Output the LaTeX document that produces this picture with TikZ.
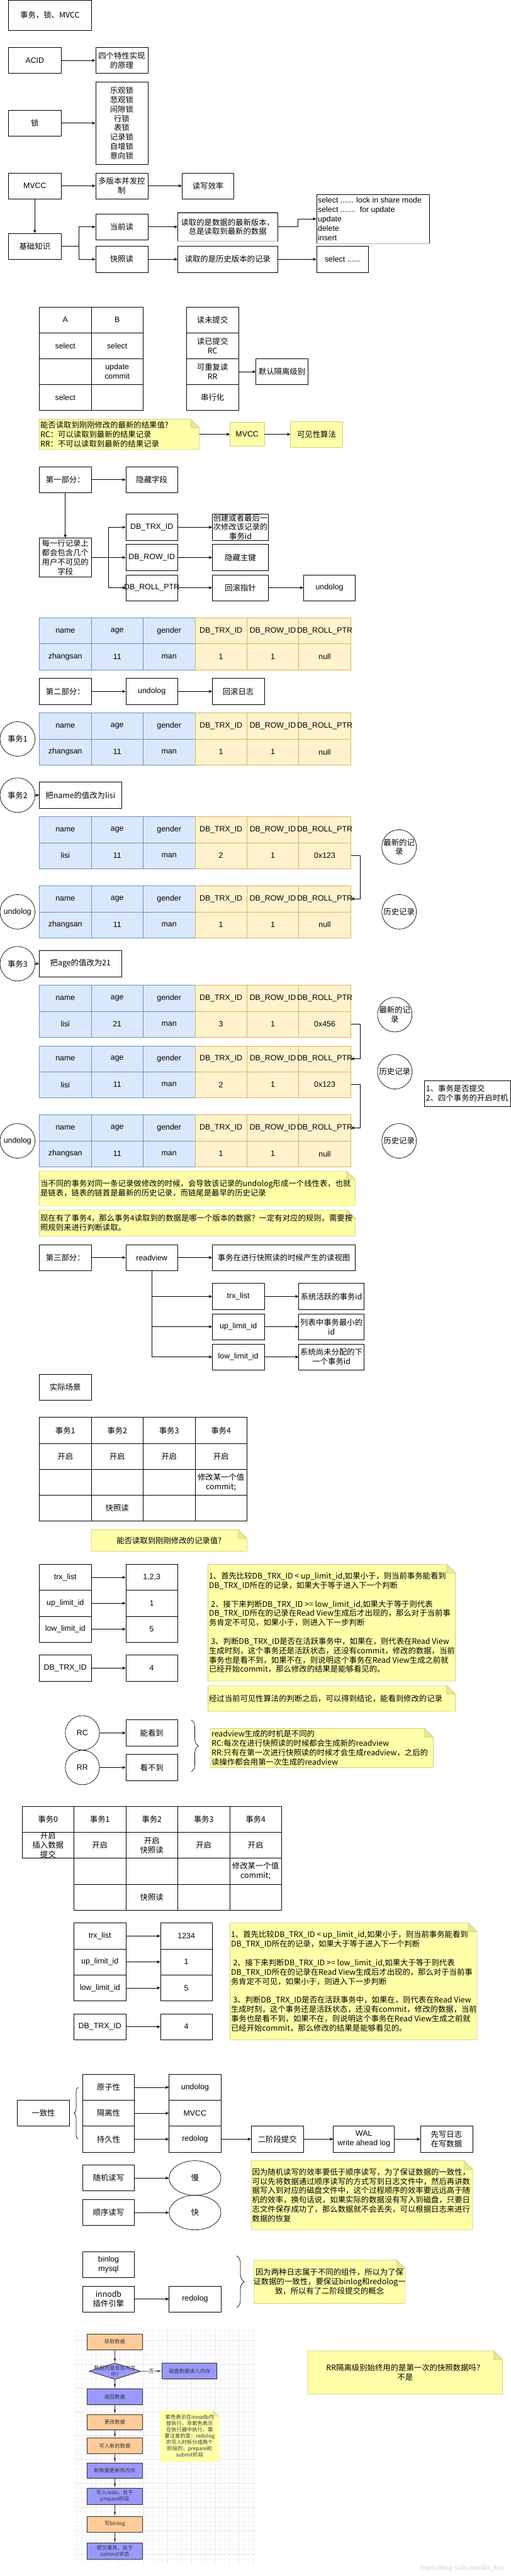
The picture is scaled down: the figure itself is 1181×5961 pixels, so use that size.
\documentclass[tikz,border=0pt]{standalone}
\usepackage{fontspec}
\setmainfont{Liberation Sans}
\newfontfamily\cjk{Noto Sans CJK SC}
\usetikzlibrary{arrows.meta,shapes.geometric,decorations.pathreplacing,shadows}
\definecolor{bluef}{HTML}{DAE8FC}
\definecolor{bluel}{HTML}{6C8EBF}
\definecolor{yelf}{HTML}{FFF2CC}
\definecolor{yell}{HTML}{D6B656}
\definecolor{notef}{HTML}{FFFFA8}
\definecolor{notel}{HTML}{CDCD78}
\definecolor{notefold}{HTML}{E8E896}
\definecolor{forange}{HTML}{FFCC99}
\definecolor{fpurple}{HTML}{9999FF}
\definecolor{fline}{HTML}{333333}
\definecolor{gmin}{HTML}{F3F3F3}
\definecolor{gmaj}{HTML}{E4E4E4}
\newcommand\fs{\fontsize{18}{21.6}\selectfont}
\newcommand\zfs{\cjk\fontsize{18}{21.6}\selectfont}
\newcommand\sfs{\cjk\fontsize{12}{14.6}\selectfont}
\newcommand\bx[6]{\node[#1,minimum width={(#4-#2)*1pt},minimum height={(#5-#3)*1pt}] (#6) at ({(#2+#4)/2},{(#3+#5)/2})}
\newcommand\el[7]{\bx{ell}{#2}{#3}{#4}{#5}{#6}{}; \node[#1] (#6T) at (#6.center) {#7};}
\newcommand\notebox[6]{%
  \filldraw[notebg] (#1,#2) -- ({#3-#6},#2) -- (#3,{#2+#6}) -- (#3,#4) -- (#1,#4) -- cycle;
  \filldraw[foldbg] ({#3-#6},#2) -- ({#3-#6},{#2+#6}) -- (#3,{#2+#6}) -- cycle;
  \bx{cover}{#1}{#2}{#3}{#4}{#5}{};}
\newcommand\trow[8]{%
  \bx{bcell}{91}{#2}{211}{#2+60}{#1a}{#3};
  \bx{bcell}{211}{#2}{331}{#2+60}{#1b}{#4};
  \bx{bcell}{331}{#2}{451}{#2+60}{#1c}{#5};
  \bx{ycell}{451}{#2}{571}{#2+60}{#1d}{#6};
  \bx{ycell}{571}{#2}{691}{#2+60}{#1e}{#7};
  \bx{ycell}{691}{#2}{811}{#2+60}{#1f}{#8};}
\newcommand\thead[2]{\trow{#1}{#2}{name}{age}{gender}{DB\_TRX\_ID}{DB\_ROW\_ID}{\makebox[0pt]{DB\_ROLL\_PTR}}}
\newcommand\bigtext{1、首先比较DB\_TRX\_ID < up\_limit\_id,如果小于，则当前事务能看到\\DB\_TRX\_ID所在的记录，如果大于等于进入下一个判断\\[21.6pt]\hspace*{5pt}2、接下来判断DB\_TRX\_ID >= low\_limit\_id,如果大于等于则代表\\DB\_TRX\_ID所在的记录在Read View生成后才出现的，那么对于当前事\\务肯定不可见，如果小于，则进入下一步判断\\[21.6pt]\hspace*{5pt}3、判断DB\_TRX\_ID是否在活跃事务中，如果在，则代表在Read View\\生成时刻，这个事务还是活跃状态，还没有commit，修改的数据，当前\\事务也是看不到，如果不在，则说明这个事务在Read View生成之前就\\已经开始commit，那么修改的结果是能够看见的。}
\begin{document}
\begin{tikzpicture}[x=1pt,y=-1pt,
  every node/.style={inner xsep=1pt,inner ysep=0pt,font=\fs,align=center,text=black},
  box/.style={draw,line width=1pt},
  zh/.style={font=\zfs},
  lat/.style={},
  cover/.style={inner sep=0pt},
  bcell/.style={draw=bluel,fill=bluef,line width=1pt},
  ycell/.style={draw=yell,fill=yelf,line width=1pt},
  ell/.style={ellipse,draw,line width=1pt,inner sep=0pt},
  arr/.style={line width=1pt,-{Stealth[length=8pt,width=7pt,inset=2.5pt]}},
  ybox/.style={draw=notel,fill=notef,line width=1pt},
  notebg/.style={draw=notel,fill=notef,line width=1pt},
  foldbg/.style={draw=notel,fill=notefold,line width=1pt},
  brc/.style={decorate,decoration={brace,amplitude=#1},line width=1pt},
  fbox/.style={draw=fline,line width=1.3pt,font=\sfs,text=fline,inner sep=0pt,drop shadow={shadow xshift=1.2pt,shadow yshift=-1.2pt,opacity=0.3}},
  farr/.style={draw=fline,line width=1.2pt,-{Latex[length=10pt,width=5pt]}}
]
\fill[white] (0,0) rectangle (1181,5961);
\useasboundingbox (0,0) rectangle (1181,5961);

% ---------- section 1
\bx{box,zh}{20}{0}{211}{70}{t0}{事务，锁、MVCC};
\bx{box}{20}{110}{141}{170}{acid}{ACID};
\bx{box,zh}{221}{110}{342}{170}{yl}{四个特性实现\\的原理};
\draw[arr] (acid.east) -- (yl.west);
\bx{box,zh}{20}{255}{141}{315}{lock}{锁};
\bx{box,zh}{221}{190}{342}{380}{locks}{乐观锁\\悲观锁\\间隙锁\\行锁\\表锁\\记录锁\\自增锁\\意向锁};
\draw[arr] (lock.east) -- (locks.west);
\bx{box}{20}{400}{141}{460}{mvcc}{MVCC};
\bx{box,zh}{221}{400}{342}{460}{mvd}{多版本并发控\\制};
\bx{box,zh}{421}{400}{541}{460}{rw}{读写效率};
\draw[arr] (mvcc.east) -- (mvd.west);
\draw[arr] (mvd.east) -- (rw.west);
\bx{box,zh}{20}{540}{141}{600}{base}{基础知识};
\draw[arr] (mvcc.south) -- (base.north);
\bx{box,zh}{221}{495}{342}{555}{cur}{当前读};
\bx{box,zh}{411}{492}{642}{558}{curd}{读取的是数据的最新版本，\\总是读取到最新的数据};
\draw[gray!60,line width=1.5pt] (curd.north west) -- (curd.north east);
\draw[gray!60,line width=1.5pt] (curd.south west) -- (curd.south east);
\bx{box}{732}{450}{993}{563}{sel1}{};
\draw[gray!60,line width=1.5pt] (sel1.south west) -- (sel1.south east);
\node[anchor=west,align=left] (sel1T) at (734,506.5) {select ...... lock in share mode\\select .......\ \ for update\\update\\delete\\insert};
\bx{box,zh}{221}{570}{342}{630}{snap}{快照读};
\bx{box,zh}{411}{570}{642}{630}{snapd}{读取的是历史版本的记录};
\bx{box}{732}{570}{852}{630}{sel2}{select ......};
\draw[arr] (base.east) -- ++(41,0) |- (cur.west);
\draw[arr] (base.east) -- ++(41,0) |- (snap.west);
\draw[arr] (cur.east) -- (curd.west);
\draw[arr] (snap.east) -- (snapd.west);
\draw[arr] (snapd.east) -- (sel2.west);
\draw[arr] (curd.east) -- ++(46,0) |- (sel1.west);

% ---------- section 2
\bx{box}{91}{710}{211}{770}{ab11}{A};
\bx{box}{211}{710}{331}{770}{ab12}{B};
\bx{box}{91}{770}{211}{830}{ab21}{select};
\bx{box}{211}{770}{331}{830}{ab22}{select};
\bx{box}{91}{830}{211}{890}{ab31}{};
\bx{box}{211}{830}{331}{890}{ab32}{update\\commit};
\bx{box}{91}{890}{211}{950}{ab41}{select};
\bx{box}{211}{890}{331}{950}{ab42}{};
\bx{box,zh}{431}{710}{552}{770}{iso1}{读未提交};
\bx{box,zh}{431}{770}{552}{830}{iso2}{读已提交\\RC};
\bx{box,zh}{431}{830}{552}{890}{iso3}{可重复读\\RR};
\bx{box,zh}{431}{890}{552}{950}{iso4}{串行化};
\bx{box,zh}{592}{830}{712}{890}{def}{默认隔离级别};
\draw[arr] (iso3.east) -- (def.west);
\notebox{91}{970}{461}{1040}{n1}{20}
\node[zh,anchor=west,align=left] (n1T) at (92,1005) {能否读取到刚刚修改的最新的结果值?\\RC：可以读取到最新的结果记录\\RR：不可以读取到最新的结果记录};
\bx{ybox}{532}{977}{611}{1033}{ymvcc}{MVCC};
\bx{ybox,zh}{672}{975}{792}{1035}{yvis}{可见性算法};
\draw[arr] (n1.east) -- (ymvcc.west);
\draw[arr] (ymvcc.east) -- (yvis.west);

% ---------- section 3
\bx{box,zh}{91}{1080}{211}{1140}{p1}{第一部分：};
\bx{box,zh}{291}{1080}{411}{1140}{hid}{隐藏字段};
\draw[arr] (p1.east) -- (hid.west);
\bx{box,zh}{91}{1245}{211}{1335}{every}{每一行记录上\\都会包含几个\\用户不可见的\\字段};
\draw[arr] (p1.south) -- (every.north);
\bx{box}{291}{1190}{411}{1250}{trx}{DB\_TRX\_ID};
\bx{box}{291}{1260}{411}{1320}{rowid}{DB\_ROW\_ID};
\bx{box}{291}{1330}{411}{1390}{roll}{\makebox[0pt]{DB\_ROLL\_PTR}};
\draw[arr] (every.east) -- ++(40,0) |- (trx.west);
\draw[arr] (every.east) -- (rowid.west);
\draw[arr] (every.east) -- ++(40,0) |- (roll.west);
\bx{box,zh}{491}{1190}{621}{1250}{trxd}{创建或者最后一\\次修改该记录的\\事务id};
\bx{box,zh}{491}{1260}{621}{1320}{rowd}{隐藏主键};
\bx{box,zh}{491}{1330}{621}{1390}{rolld}{回滚指针};
\bx{box}{702}{1330}{822}{1390}{undoA}{undolog};
\draw[arr] (trx.east) -- (trxd.west);
\draw[arr] (rowid.east) -- (rowd.west);
\draw[arr] (roll.east) -- (rolld.west);
\draw[arr] (rolld.east) -- (undoA.west);
\thead{h1}{1430}
\trow{d1}{1490}{zhangsan}{11}{man}{1}{1}{null}

% ---------- section 4
\bx{box,zh}{91}{1570}{211}{1630}{p2}{第二部分：};
\bx{box}{291}{1570}{411}{1630}{undoB}{undolog};
\bx{box,zh}{491}{1570}{611}{1630}{rb}{回滚日志};
\draw[arr] (p2.east) -- (undoB.west);
\draw[arr] (undoB.east) -- (rb.west);
\thead{h2}{1650}
\trow{d2}{1710}{zhangsan}{11}{man}{1}{1}{null}
\el{zh}{0}{1670}{81}{1750}{e1}{事务1}
\el{zh}{0}{1800}{81}{1880}{e2}{事务2}
\bx{box,zh}{91}{1810}{281}{1870}{c2}{把name的值改为lisi};
\draw[arr] (e2.east) -- (c2.west);
\thead{h3}{1890}
\trow{d3}{1950}{lisi}{11}{man}{2}{1}{0x123}
\el{zh}{883}{1920}{963}{2000}{new1}{最新的记\\录}
\thead{h4}{2050}
\trow{d4}{2110}{zhangsan}{11}{man}{1}{1}{null}
\el{lat}{0}{2070}{81}{2150}{u1}{undolog}
\el{zh}{883}{2070}{963}{2150}{his1}{历史记录}
\draw[arr] (d3f.east) -- ++(21,0) |- (h4f.east);
\el{zh}{0}{2190}{81}{2270}{e3}{事务3}
\bx{box,zh}{91}{2200}{281}{2260}{c3}{把age的值改为21};
\draw[arr] (e3.east) -- (c3.west);
\thead{h5}{2280}
\trow{d5}{2340}{lisi}{21}{man}{3}{1}{0x456}
\el{zh}{873}{2308}{953}{2388}{new2}{最新的记\\录}
\thead{h6}{2420}
\trow{d6}{2480}{lisi}{11}{man}{2}{1}{0x123}
\el{zh}{873}{2440}{953}{2520}{his2}{历史记录}
\draw[arr] (d5f.east) -- ++(21,0) |- (h6f.east);
\thead{h7}{2580}
\trow{d7}{2640}{zhangsan}{11}{man}{1}{1}{null}
\el{lat}{0}{2600}{81}{2680}{u2}{undolog}
\el{zh}{883}{2600}{963}{2680}{his3}{历史记录}
\draw[arr] (d6f.east) -- ++(21,0) |- (h7f.east);
\bx{box}{982}{2500}{1180.5}{2560}{qb}{};
\node[zh,anchor=west,align=left] (qbT) at (984,2530) {1、事务是否提交\\2、四个事务的开启时机};

% ---------- section 5
\notebox{91}{2710}{822}{2790}{na}{20}
\node[zh,anchor=west,align=left] (naT) at (92,2750) {当不同的事务对同一条记录做修改的时候，会导致该记录的undolog形成一个线性表，也就\\是链表，链表的链首是最新的历史记录，而链尾是最早的历史记录};
\notebox{91}{2800}{822}{2860}{nb}{20}
\node[zh,anchor=west,align=left] (nbT) at (92,2830) {现在有了事务4，那么事务4读取到的数据是哪一个版本的数据？一定有对应的规则，需要按\\照规则来进行判断读取。};
\bx{box,zh}{91}{2880}{211}{2940}{p3}{第三部分：};
\bx{box}{291}{2880}{411}{2940}{rv}{readview};
\bx{box,zh}{491}{2880}{822}{2940}{rvd}{事务在进行快照读的时候产生的读视图};
\draw[arr] (p3.east) -- (rv.west);
\draw[arr] (rv.east) -- (rvd.west);
\bx{box}{491}{2970}{611}{3030}{tl}{trx\_list};
\bx{box}{491}{3040}{611}{3100}{ul}{up\_limit\_id};
\bx{box}{491}{3110}{611}{3170}{ll}{low\_limit\_id};
\bx{box,zh}{691}{2970}{842}{3030}{tld}{系统活跃的事务id};
\bx{box,zh}{691}{3040}{842}{3100}{uld}{列表中事务最小的\\id};
\bx{box,zh}{691}{3110}{842}{3170}{lld}{系统尚未分配的下\\一个事务id};
\draw[arr] (rv.south) |- (tl.west);
\draw[arr] (rv.south) |- (ul.west);
\draw[arr] (rv.south) |- (ll.west);
\draw[arr] (tl.east) -- (tld.west);
\draw[arr] (ul.east) -- (uld.west);
\draw[arr] (ll.east) -- (lld.west);

% ---------- section 6
\bx{box,zh}{91}{3180}{211}{3240}{real}{实际场景};
\bx{box,zh}{91}{3280}{211}{3340}{s11}{事务1};
\bx{box,zh}{211}{3280}{331}{3340}{s12}{事务2};
\bx{box,zh}{331}{3280}{451}{3340}{s13}{事务3};
\bx{box,zh}{451}{3280}{571}{3340}{s14}{事务4};
\bx{box,zh}{91}{3340}{211}{3400}{s21}{开启};
\bx{box,zh}{211}{3340}{331}{3400}{s22}{开启};
\bx{box,zh}{331}{3340}{451}{3400}{s23}{开启};
\bx{box,zh}{451}{3340}{571}{3400}{s24}{开启};
\bx{box,zh}{91}{3400}{211}{3460}{s31}{};
\bx{box,zh}{211}{3400}{331}{3460}{s32}{};
\bx{box,zh}{331}{3400}{451}{3460}{s33}{};
\bx{box,zh}{451}{3400}{571}{3460}{s34}{修改某一个值\\commit;};
\bx{box,zh}{91}{3460}{211}{3520}{s41}{};
\bx{box,zh}{211}{3460}{331}{3520}{s42}{快照读};
\bx{box,zh}{331}{3460}{451}{3520}{s43}{};
\bx{box,zh}{451}{3460}{571}{3520}{s44}{};
\notebox{211}{3540}{571}{3590}{q2}{20}
\node[zh] (q2T) at (391,3565) {能否读取到刚刚修改的记录值?};
\bx{box}{91}{3620}{211}{3680}{k1}{trx\_list};
\bx{box}{291}{3620}{411}{3680}{v1}{1,2,3};
\bx{box}{91}{3680}{211}{3740}{k2}{up\_limit\_id};
\bx{box}{291}{3680}{411}{3740}{v2}{1};
\bx{box}{91}{3740}{211}{3800}{k3}{low\_limit\_id};
\bx{box}{291}{3740}{411}{3800}{v3}{5};
\bx{box}{91}{3830}{211}{3890}{k4}{DB\_TRX\_ID};
\bx{box}{291}{3830}{411}{3890}{v4}{4};
\draw[arr] (k1.east) -- (v1.west);
\draw[arr] (k2.east) -- (v2.west);
\draw[arr] (k3.east) -- (v3.west);
\draw[arr] (k4.east) -- (v4.west);
\notebox{481}{3620}{1053}{3890}{nb1}{20}
\node[zh,anchor=west,align=left] (nb1T) at (482,3755) {\bigtext};
\notebox{481}{3900}{1053}{3960}{nc}{20}
\node[zh,anchor=west] (ncT) at (482,3930) {经过当前可见性算法的判断之后，可以得到结论，能看到修改的记录};
\el{lat}{151}{3970}{230}{4050}{rc}{RC}
\bx{box,zh}{291}{3980}{411}{4040}{see}{能看到};
\el{lat}{151}{4050}{230}{4130}{rr}{RR}
\bx{box,zh}{291}{4060}{411}{4120}{nsee}{看不到};
\draw[arr] (rc.east) -- (see.west);
\draw[arr] (rr.east) -- (nsee.west);
\coordinate (brA1) at (442,3980);
\coordinate (brA2) at (442,4100);
\draw[brc=17pt] (brA1) -- (brA2);
\notebox{487}{4000}{1002}{4090}{nd}{20}
\node[zh,anchor=west,align=left] (ndT) at (488,4045) {readview生成的时机是不同的\\RC:每次在进行快照读的时候都会生成新的readview\\RR:只有在第一次进行快照读的时候才会生成readview，之后的\\读操作都会用第一次生成的readview};

% ---------- section 7
\bx{box,zh}{51}{4180}{171}{4240}{u11}{事务0};
\bx{box,zh}{171}{4180}{291}{4240}{u12}{事务1};
\bx{box,zh}{291}{4180}{411}{4240}{u13}{事务2};
\bx{box,zh}{411}{4180}{531}{4240}{u14}{事务3};
\bx{box,zh}{531}{4180}{651}{4240}{u15}{事务4};
\bx{box,zh}{51}{4240}{171}{4300}{u21}{开启\\插入数据\\提交};
\bx{box,zh}{171}{4240}{291}{4300}{u22}{开启};
\bx{box,zh}{291}{4240}{411}{4300}{u23}{开启\\快照读};
\bx{box,zh}{411}{4240}{531}{4300}{u24}{开启};
\bx{box,zh}{531}{4240}{651}{4300}{u25}{开启};
\bx{box,zh}{171}{4300}{291}{4360}{u32}{};
\bx{box,zh}{291}{4300}{411}{4360}{u33}{};
\bx{box,zh}{411}{4300}{531}{4360}{u34}{};
\bx{box,zh}{531}{4300}{651}{4360}{u35}{修改某一个值\\commit;};
\bx{box,zh}{171}{4360}{291}{4420}{u42}{};
\bx{box,zh}{291}{4360}{411}{4420}{u43}{快照读};
\bx{box,zh}{411}{4360}{531}{4420}{u44}{};
\bx{box,zh}{531}{4360}{651}{4420}{u45}{};
\bx{box}{171}{4450}{291}{4510}{m1}{trx\_list};
\bx{box}{371}{4450}{491}{4510}{w1}{1234};
\bx{box}{171}{4510}{291}{4570}{m2}{up\_limit\_id};
\bx{box}{371}{4510}{491}{4570}{w2}{1};
\bx{box}{171}{4570}{291}{4630}{m3}{low\_limit\_id};
\bx{box}{371}{4570}{491}{4630}{w3}{5};
\bx{box}{171}{4660}{291}{4720}{m4}{DB\_TRX\_ID};
\bx{box}{371}{4660}{491}{4720}{w4}{4};
\draw[arr] (m1.east) -- (w1.west);
\draw[arr] (m2.east) -- (w2.west);
\draw[arr] (m3.east) -- (w3.west);
\draw[arr] (m4.east) -- (w4.west);
\notebox{532}{4450}{1103}{4720}{nb2}{20}
\node[zh,anchor=west,align=left] (nb2T) at (533,4585) {\bigtext};

% ---------- section 8
\bx{box,zh}{40}{4860}{161}{4920}{cons}{一致性};
\coordinate (brB1) at (181,4950);
\coordinate (brB2) at (181,4830);
\draw[brc=10pt] (brB1) -- (brB2);
\bx{box,zh}{191}{4800}{311}{4860}{a1}{原子性};
\bx{box,zh}{191}{4860}{311}{4920}{a2}{隔离性};
\bx{box,zh}{191}{4920}{311}{4980}{a3}{持久性};
\bx{box}{391}{4800}{511}{4860}{b1}{undolog};
\bx{box}{391}{4860}{511}{4920}{b2}{MVCC};
\bx{box}{391}{4920}{511}{4980}{b3}{redolog};
\bx{box,zh}{581}{4920}{702}{4980}{c1}{二阶段提交};
\bx{box}{771}{4920}{912}{4980}{cw}{WAL\\write ahead log};
\bx{box,zh}{972}{4920}{1093}{4980}{cz}{先写日志\\在写数据};
\draw[arr] (a1.east) -- (b1.west);
\draw[arr] (a2.east) -- (b2.west);
\draw[arr] (a3.east) -- (b3.west);
\draw[arr] (b3.east) -- (c1.west);
\draw[arr] (c1.east) -- (cw.west);
\draw[arr] (cw.east) -- (cz.west);

% ---------- section 9
\bx{box,zh}{191}{5010}{311}{5070}{rnd}{随机读写};
\el{zh}{391}{5000}{511}{5080}{slow}{慢}
\bx{box,zh}{191}{5090}{311}{5150}{seq}{顺序读写};
\el{zh}{391}{5080}{511}{5160}{fast}{快}
\draw[arr] (rnd.east) -- (slow.west);
\draw[arr] (seq.east) -- (fast.west);
\notebox{581}{5000}{1093}{5160}{ne}{20}
\node[zh,anchor=west,align=left] (neT) at (582,5080) {因为随机读写的效率要低于顺序读写，为了保证数据的一致性，\\可以先将数据通过顺序读写的方式写到日志文件中，然后再讲数\\据写入到对应的磁盘文件中，这个过程顺序的效率要远远高于随\\机的效率，换句话说，如果实际的数据没有写入到磁盘，只要日\\志文件保存成功了，那么数据就不会丢失，可以根据日志来进行\\数据的恢复};
\bx{box}{191}{5210}{311}{5270}{binl}{binlog\\mysql};
\bx{box,zh}{191}{5290}{311}{5350}{inno}{innodb\\插件引擎};
\bx{box}{391}{5290}{511}{5350}{redo2}{redolog};
\draw[arr] (inno.east) -- (redo2.west);
\coordinate (brC1) at (547,5220);
\coordinate (brC2) at (547,5340);
\draw[brc=18pt] (brC1) -- (brC2);
\notebox{587}{5230}{937}{5330}{nf}{20}
\node[zh] (nfT) at (762,5280) {因为两种日志属于不同的组件，所以为了保\\证数据的一致性，要保证binlog和redolog一\\致，所以有了二阶段提交的概念};
\notebox{712}{5440}{1162}{5540}{nrr}{20}
\node[zh] (nrrT) at (937,5490) {RR隔离级别始终用的是第一次的快照数据吗？\\不是};

% ---------- flowchart image
\begin{scope}
\clip (171,5390) rectangle (593,5933);
\foreach \k in {0,...,37} \draw[gmin,line width=0.8pt] ({178+11*\k},5390) -- ({178+11*\k},5933);
\foreach \k in {0,...,49} \draw[gmin,line width=0.8pt] (171,{5394+11*\k}) -- (593,{5394+11*\k});
\foreach \k in {0,...,6} \draw[gmaj,line width=1pt] ({222+55*\k},5390) -- ({222+55*\k},5933);
\foreach \k in {0,...,9} \draw[gmaj,line width=1pt] (171,{5416+55*\k}) -- (593,{5416+55*\k});
\end{scope}
\bx{fbox,fill=forange}{202}{5401}{329}{5437}{f1}{获取数据};
\node[diamond,draw=fline,fill=fpurple,line width=1.3pt,minimum width=119pt,minimum height=38pt,inner sep=0pt,drop shadow={shadow xshift=1.2pt,shadow yshift=-1.2pt,opacity=0.3}] (fd) at (265.5,5487) {};
\node[font=\sfs,text=fline] (fdT) at (fd.center) {数据页是否在内存\\中?};
\bx{fbox,fill=fpurple}{375}{5468}{502}{5505}{fdisk}{磁盘数据读入内存};
\bx{fbox,fill=fpurple}{202}{5528}{329}{5565}{f2}{返回数据};
\bx{fbox,fill=forange}{202}{5587}{329}{5623}{f3}{更改数据};
\bx{fbox,fill=forange}{202}{5642}{329}{5678}{f4}{写入新的数据};
\bx{fbox,fill=fpurple}{202}{5699}{329}{5735}{f5}{新数据更新到内存};
\bx{fbox,fill=fpurple}{202}{5758}{329}{5795}{f6}{写入redo，处于\\prepare阶段};
\bx{fbox,fill=forange}{202}{5823}{329}{5859}{f7}{写binlog};
\bx{fbox,fill=fpurple}{202}{5885}{329}{5922}{f8}{提交事务，处于\\commit状态};
\draw[farr] (f1.south) -- (fd.north);
\draw[farr] (fd.east) -- node[pos=0.5,fill=white,inner sep=1pt,font=\sfs,text=fline] (fno) {否} (fdisk.west);
\draw[farr] (fd.south) -- (f2.north);
\draw[farr] (f2.south) -- (f3.north);
\draw[farr] (f3.south) -- (f4.north);
\draw[farr] (f4.south) -- (f5.north);
\draw[farr] (f5.south) -- (f6.north);
\draw[farr] (f6.south) -- (f7.north);
\draw[farr] (f7.south) -- (f8.north);
\filldraw[fill=notef,draw=notef] (370,5578) -- (493,5578) -- (507,5592) -- (507,5697) -- (370,5697) -- cycle;
\filldraw[fill=notefold,draw=notefold] (493,5578) -- (493,5592) -- (507,5592) -- cycle;
\bx{cover}{370}{5578}{507}{5697}{fn}{};
\node[font=\sfs,text=fline] (fnT) at (438.5,5637.5) {紫色表示在innodb内\\部执行，非紫色表示\\在执行器中执行，需\\要注意的是：redolog\\的写入时拆分成两个\\阶段的，prepare和\\submit阶段};

% ---------- watermark
\node[text=gray!35,font=\fontsize{15}{18}\selectfont] (wm) at (1070,5943) {https://blog.csdn.net/Skr\_Eric};
\end{tikzpicture}
\end{document}
